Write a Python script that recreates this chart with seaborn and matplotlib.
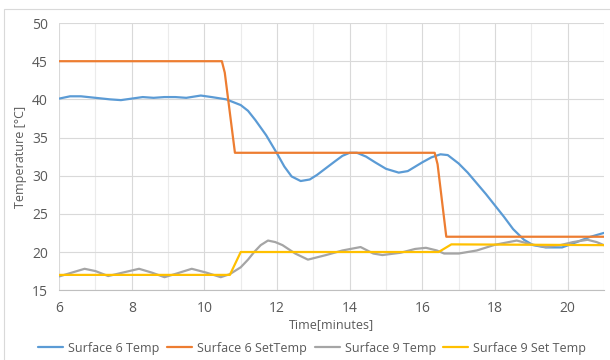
import numpy as np
import pandas as pd
import matplotlib
matplotlib.use("Agg")
import matplotlib.pyplot as plt
from matplotlib.patches import Rectangle
from matplotlib.ticker import MultipleLocator
import seaborn as sns

# ── Data ──────────────────────────────────────────────────────
s6_time = [6.0, 6.3, 6.6, 7.0, 7.4, 7.7, 8.0, 8.3, 8.6, 8.9, 9.2, 9.5, 9.9,
           10.2, 10.6, 11.0, 11.2, 11.4, 11.7, 12.0, 12.2, 12.4, 12.65, 12.9,
           13.1, 13.35, 13.6, 13.8, 14.0, 14.2, 14.45, 14.7, 15.0, 15.35,
           15.6, 16.0, 16.25, 16.5, 16.7, 17.0, 17.25, 17.5, 17.75, 18.0,
           18.25, 18.5, 18.8, 19.05, 19.4, 19.85, 20.25, 20.6, 21.0]
s6_temp = [40.1, 40.4, 40.4, 40.2, 40.0, 39.9, 40.1, 40.3, 40.2, 40.3, 40.3,
           40.2, 40.5, 40.3, 40.0, 39.25, 38.5, 37.3, 35.3, 32.9, 31.2, 29.9,
           29.3, 29.5, 30.1, 31.0, 31.9, 32.6, 33.0, 33.0, 32.5, 31.75, 30.9,
           30.4, 30.6, 31.75, 32.4, 32.8, 32.7, 31.6, 30.4, 29.0, 27.6, 26.1,
           24.6, 23.0, 21.6, 20.9, 20.6, 20.6, 21.3, 21.95, 22.5]

s6_set_time = [6.0, 10.48, 10.56, 10.84, 16.34, 16.42, 16.66, 21.0]
s6_set_temp = [45.0, 45.0, 43.5, 33.0, 33.0, 31.5, 22.0, 22.0]

s9_time = [6.0, 6.35, 6.7, 7.0, 7.35, 7.75, 8.2, 8.55, 8.9, 9.25, 9.65, 10.05,
           10.45, 10.7, 11.0, 11.2, 11.37, 11.55, 11.75, 11.95, 12.15, 12.5,
           12.85, 13.35, 13.8, 14.3, 14.65, 14.9, 15.4, 15.8, 16.1, 16.4,
           16.6, 17.0, 17.5, 18.0, 18.6, 19.0, 19.4, 19.8, 20.15, 20.55,
           20.8, 21.0]
s9_temp = [16.8, 17.3, 17.8, 17.5, 16.85, 17.3, 17.8, 17.3, 16.7, 17.2, 17.8,
           17.3, 16.7, 17.1, 18.0, 19.0, 20.0, 20.9, 21.5, 21.3, 20.9, 19.8,
           19.0, 19.6, 20.2, 20.65, 19.8, 19.6, 19.9, 20.4, 20.55, 20.2,
           19.8, 19.8, 20.2, 20.95, 21.5, 21.0, 20.65, 20.9, 21.3, 21.6,
           21.3, 20.9]

s9_set_time = [6.0, 10.7, 11.0, 16.45, 16.8, 21.0]
s9_set_temp = [17.0, 17.0, 20.0, 20.0, 21.0, 20.9]

labels = ["Surface 6 Temp", "Surface 6 SetTemp", "Surface 9 Temp", "Surface 9 Set Temp"]
colors = ["#5B9BD5", "#ED7D31", "#A5A5A5", "#FFC000"]

# ── Long-form table ───────────────────────────────────────────
frames = []
for name, t, v in zip(labels,
                      [s6_time, s6_set_time, s9_time, s9_set_time],
                      [s6_temp, s6_set_temp, s9_temp, s9_set_temp]):
    frames.append(pd.DataFrame({"time": t, "temp": v, "series": name}))
df = pd.concat(frames, ignore_index=True)

# ── Plot ──────────────────────────────────────────────────────
sns.set_style("white")
plt.rcParams["font.family"] = ["Open Sans", "DejaVu Sans"]
text_col = "#595959"

fig = plt.figure(figsize=(6.1, 3.6), dpi=100)
ax = fig.add_axes([0.097, 0.194, 0.893, 0.742])

sns.lineplot(data=df, x="time", y="temp", hue="series", hue_order=labels,
             palette=colors, linewidth=1.6, sort=False, estimator=None,
             solid_joinstyle="round", ax=ax, legend=True)

ax.set_xlim(6, 21)
ax.set_ylim(15, 50)
ax.xaxis.set_major_locator(MultipleLocator(2))
ax.xaxis.set_minor_locator(MultipleLocator(1))
ax.yaxis.set_major_locator(MultipleLocator(5))
ax.grid(which="major", axis="both", color="#D9D9D9", linewidth=0.8)
ax.grid(which="minor", axis="x", color="#EBEBEB", linewidth=0.8)
ax.set_axisbelow(True)

for s in ["top", "right", "left"]:
    ax.spines[s].set_visible(False)
ax.spines["bottom"].set_color("#BFBFBF")
ax.tick_params(axis="x", which="both", direction="out", length=4,
               color="#BFBFBF", labelsize=10, labelcolor=text_col, pad=4)
ax.tick_params(axis="y", length=0, labelsize=10, labelcolor=text_col, pad=8)

ax.set_xlabel("Time[minutes]", fontsize=9, color=text_col, labelpad=1)
ax.set_ylabel("Temperature [°C]", fontsize=9, color=text_col, labelpad=4)

handles, lbls = ax.get_legend_handles_labels()
ax.legend(handles, lbls, loc="center", bbox_to_anchor=(0.465, -0.217),
          ncol=4, frameon=False, fontsize=9, handlelength=2.0,
          handletextpad=0.4, columnspacing=0.6, labelcolor=text_col,
          borderaxespad=0, borderpad=0)

# outer chart frame
fig.patches.append(Rectangle((4 / 610, -0.1), 1.1, 1.1 - 9 / 360,
                             transform=fig.transFigure, fill=False,
                             edgecolor="#D9D9D9", linewidth=0.8))

fig.savefig("out.png", dpi=100)
